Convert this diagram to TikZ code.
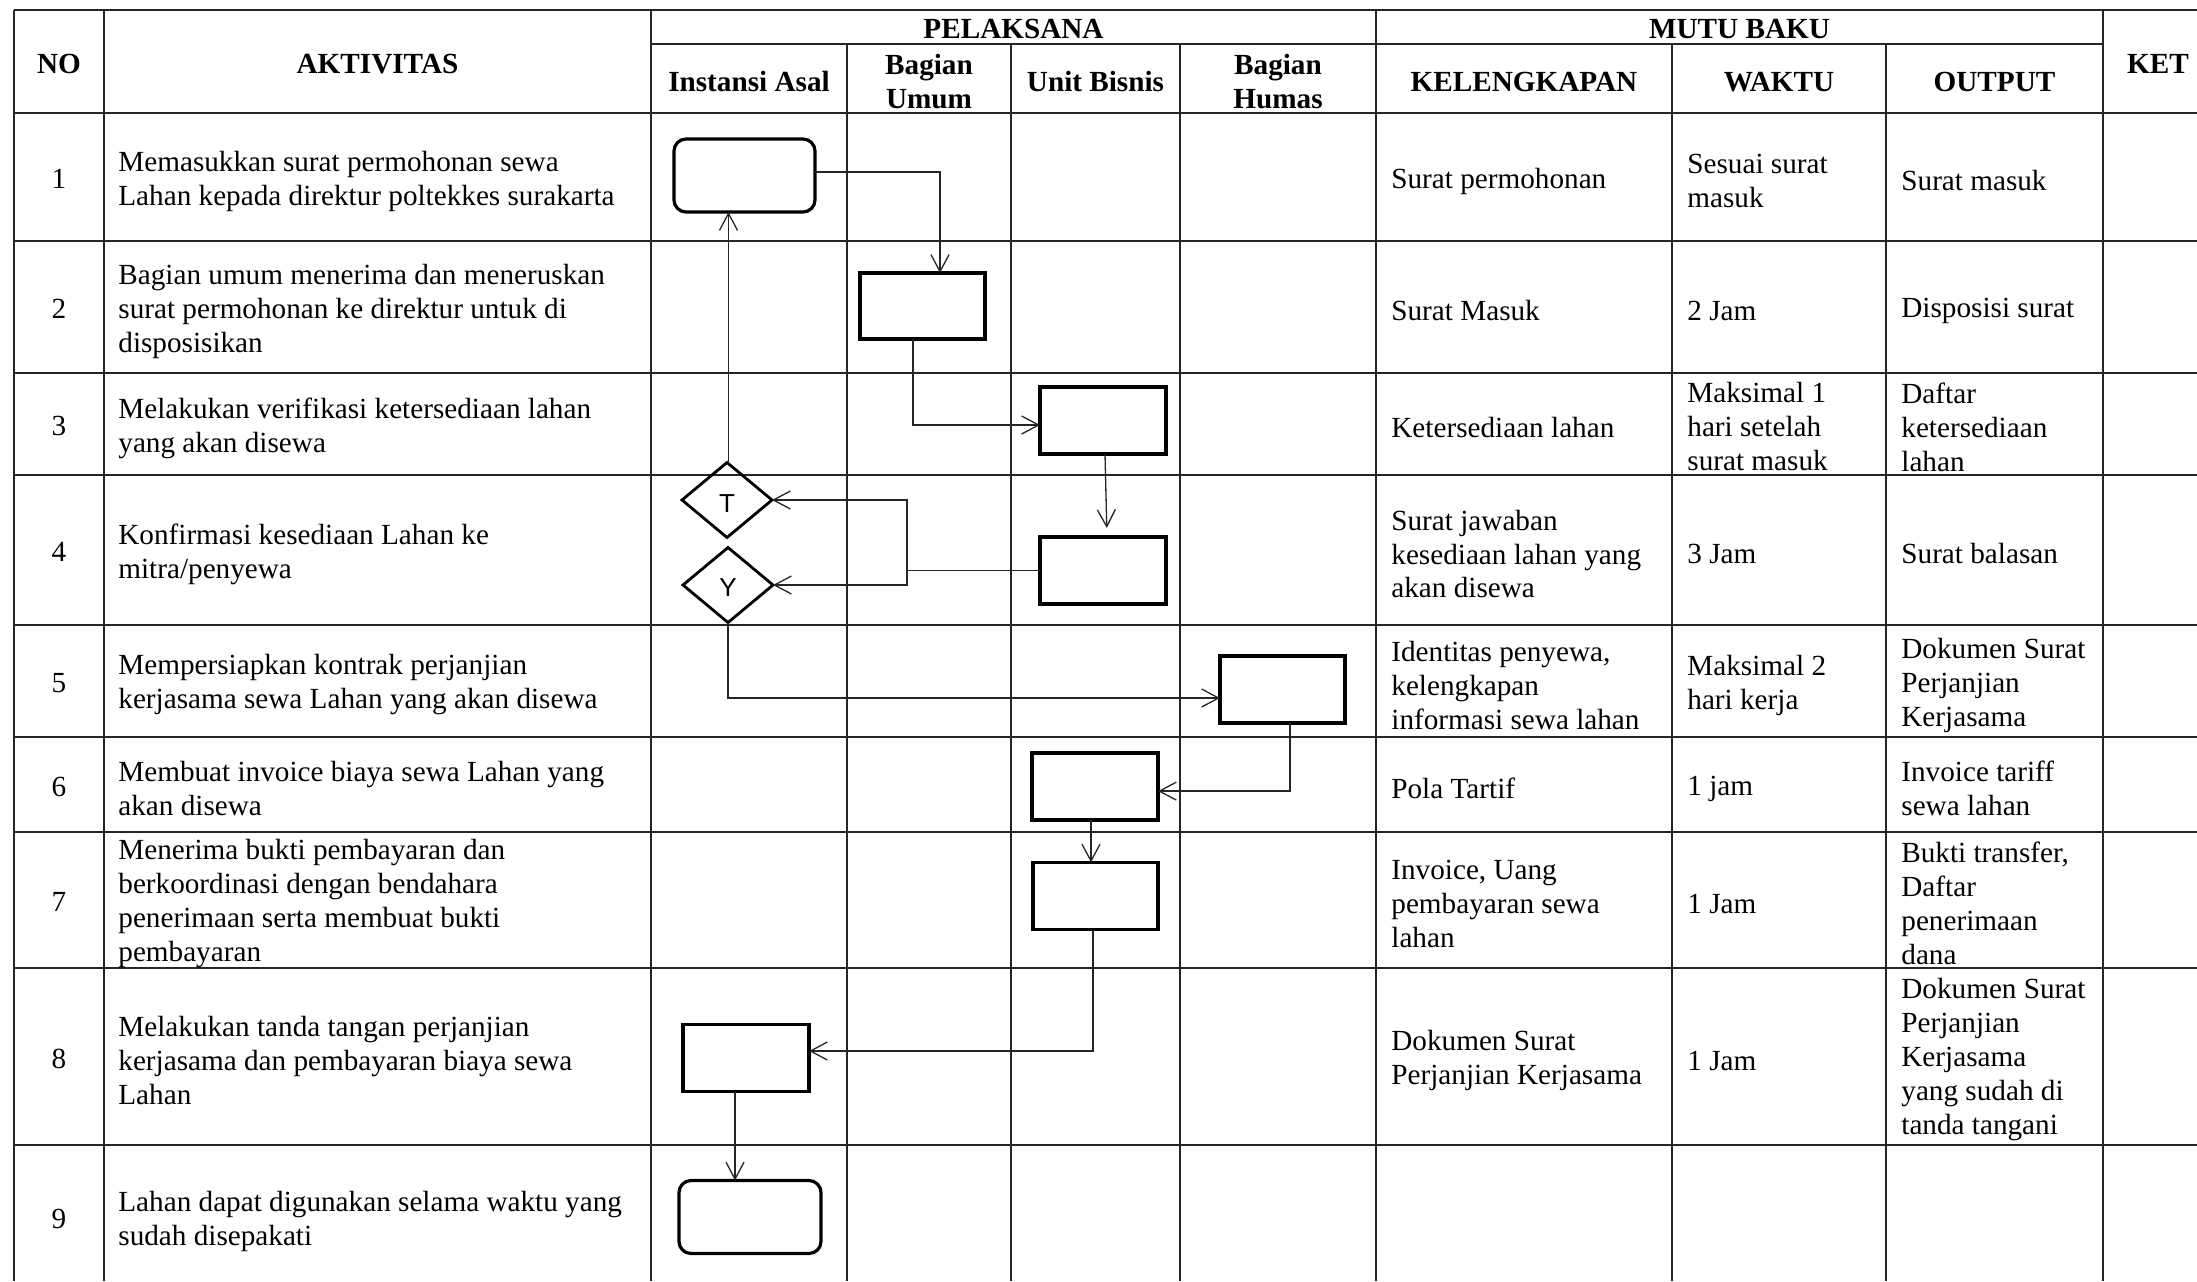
\documentclass[tikz,border=0pt]{standalone}
\usepackage{fontspec}
\setmainfont{Liberation Serif}
\newfontfamily\sansf{Liberation Sans}
\usetikzlibrary{arrows.meta,shapes.geometric,calc}
\begin{document}
\begin{tikzpicture}[x=0.5pt,y=-0.5pt,
 grid/.style={line width=0.9pt,black!85},
 proc/.style={draw,line width=1.6pt,inner sep=0,outer sep=0},
 term/.style={proc,rounded corners=6pt},
 dec/.style={draw,diamond,line width=1.4pt,inner sep=0,outer sep=0,minimum width=45pt,minimum height=37.5pt,font=\sansf\fontsize{13pt}{15pt}\selectfont},
 conn/.style={line width=0.65pt,black!85,-{Straight Barb[length=8.5pt,width=9pt,line width=0.65pt]}},
 plain/.style={line width=0.65pt,black!85},
 txt/.style={anchor=west,align=left,inner sep=0,yshift=-2pt,font=\fontsize{14.6pt}{17pt}\selectfont},
 ctr/.style={align=center,inner sep=0,yshift=-1pt,font=\fontsize{14.6pt}{17pt}\selectfont},
 hd/.style={align=center,inner sep=0,yshift=-1pt,font=\bfseries\fontsize{14.6pt}{17pt}\selectfont}
]
\useasboundingbox (0,0) rectangle (2197,1281);
% grid
\foreach \y in {10,113,241,373,475,625,737,832,968,1145}
  \draw[grid] (14,\y) -- (2197,\y);
\draw[grid] (651,44) -- (2103,44);
\foreach \x in {14,104,651,1376,2103}
  \draw[grid] (\x,10) -- (\x,1281);
\foreach \x in {847,1011,1180,1672,1886}
  \draw[grid] (\x,44) -- (\x,1281);
% header
\node[hd] (hno) at (59,62) {NO};
\node[hd] (hak) at (377.5,62) {AKTIVITAS};
\node[hd] (hpl) at (1013.5,27) {PELAKSANA};
\node[hd] (hmb) at (1739.5,27) {MUTU BAKU};
\node[hd] (hket) at (2158,62) {KET};
\node[hd] (hia) at (749,80) {Instansi Asal};
\node[hd] (hbu) at (929,80) {Bagian\\Umum};
\node[hd] (hub) at (1095.5,80) {Unit Bisnis};
\node[hd] (hbh) at (1278,80) {Bagian\\Humas};
\node[hd] (hkl) at (1524,80) {KELENGKAPAN};
\node[hd] (hwk) at (1779,80) {WAKTU};
\node[hd] (hou) at (1994.5,80) {OUTPUT};
% numbers
\foreach \n/\y in {1/177,2/307,3/424,4/550,5/681,6/784.5,7/900,8/1056.5,9/1217}
  \node[ctr] (no\n) at (59,\y) {\n};
% aktivitas
\node[txt] (a1) at (118,177) {Memasukkan surat permohonan sewa\\Lahan kepada direktur poltekkes surakarta};
\node[txt] (a2) at (118,307) {Bagian umum menerima dan meneruskan\\surat permohonan ke direktur untuk di\\disposisikan};
\node[txt] (a3) at (118,424) {Melakukan verifikasi ketersediaan lahan\\yang akan disewa};
\node[txt] (a4) at (118,550) {Konfirmasi kesediaan Lahan ke\\mitra/penyewa};
\node[txt] (a5) at (118,681) {Mempersiapkan kontrak perjanjian\\kerjasama sewa Lahan yang akan disewa};
\node[txt] (a6) at (118,784.5) {Membuat invoice biaya sewa Lahan yang\\akan disewa};
\node[txt] (a7) at (118,900) {Menerima bukti pembayaran dan\\berkoordinasi dengan bendahara\\penerimaan serta membuat bukti\\pembayaran};
\node[txt] (a8) at (118,1056.5) {Melakukan tanda tangan perjanjian\\kerjasama dan pembayaran biaya sewa\\Lahan};
\node[txt] (a9) at (118,1217) {Lahan dapat digunakan selama waktu yang\\sudah disepakati};
% kelengkapan
\node[txt] (k1) at (1391,177) {Surat permohonan};
\node[txt] (k2) at (1391,307) {Surat Masuk};
\node[txt] (k3) at (1391,424) {Ketersediaan lahan};
\node[txt] (k4) at (1391,550) {Surat jawaban\\kesediaan lahan yang\\akan disewa};
\node[txt] (k5) at (1391,681) {Identitas penyewa,\\kelengkapan\\informasi sewa lahan};
\node[txt] (k6) at (1391,784.5) {Pola Tartif};
\node[txt] (k7) at (1391,900) {Invoice, Uang\\pembayaran sewa\\lahan};
\node[txt] (k8) at (1391,1056.5) {Dokumen Surat\\Perjanjian Kerjasama};
% waktu
\node[txt] (w1) at (1687,177) {Sesuai surat\\masuk};
\node[txt] (w2) at (1687,307) {2 Jam};
\node[txt] (w3) at (1687,423) {Maksimal 1\\hari setelah\\surat masuk};
\node[txt] (w4) at (1687,550) {3 Jam};
\node[txt] (w5) at (1687,681) {Maksimal 2\\hari kerja};
\node[txt] (w6) at (1687,784.5) {1 jam};
\node[txt] (w7) at (1687,900) {1 Jam};
\node[txt] (w8) at (1687,1056.5) {1 Jam};
% output
\node[txt] (o1) at (1901,177) {Surat masuk};
\node[txt] (o2) at (1901,307) {Disposisi surat};
\node[txt] (o3) at (1901,423) {Daftar\\ketersediaan\\lahan};
\node[txt] (o4) at (1901,550) {Surat balasan};
\node[txt] (o5) at (1901,681) {Dokumen Surat\\Perjanjian\\Kerjasama};
\node[txt] (o6) at (1901,784.5) {Invoice tariff\\sewa lahan};
\node[txt] (o7) at (1901,899) {Bukti transfer,\\Daftar\\penerimaan\\dana};
\node[txt] (o8) at (1901,1056) {Dokumen Surat\\Perjanjian\\Kerjasama\\yang sudah di\\tanda tangani};
% flow shapes
\node[term,minimum width=70.5pt,minimum height=36.5pt] (n1) at (744.5,175.5) {};
\node[proc,minimum width=62.5pt,minimum height=33pt] (n2) at (922.5,306) {};
\node[proc,minimum width=63pt,minimum height=33.5pt] (n3) at (1103,420.5) {};
\node[proc,minimum width=63pt,minimum height=33.5pt] (n4) at (1103,570.5) {};
\node[dec] (dT) at (727,500) {\raisebox{-2pt}[\height][0pt]{T}};
\node[dec] (dY) at (728,585) {\raisebox{-1.5pt}[\height][0pt]{Y}};
\node[proc,minimum width=62.5pt,minimum height=33.5pt] (n5) at (1282.5,689.5) {};
\node[proc,minimum width=63pt,minimum height=33.5pt] (n6) at (1095,786.5) {};
\node[proc,minimum width=62.5pt,minimum height=33.5pt] (n7) at (1095.5,896) {};
\node[proc,minimum width=63pt,minimum height=33.5pt] (n8) at (746,1058) {};
\node[term,minimum width=71pt,minimum height=36.5pt] (n9) at (750,1217) {};
% connectors
\draw[conn] ([yshift=1.75pt]n1.east) -| ([xshift=8.75pt]n2.north);
\draw[conn] ([xshift=-4.75pt]n2.south) |- ([yshift=-2.25pt]n3.west);
\draw[conn,shorten >=4.5pt] ([xshift=1pt]n3.south) -- ([xshift=2pt]n4.north);
\coordinate (sp) at ($(n4.west)+(-66.5pt,0)$);
\draw[plain] (n4.west) -- (sp);
\draw[conn] (sp) |- (dT.east);
\draw[conn] (sp) |- (dY.east);
\draw[conn] ([xshift=0.75pt]dT.north) -- ([xshift=0.75pt]dT.north |- n1.south);
\draw[conn] (dY.south) |- ([yshift=-4.25pt]n5.west);
\draw[conn] ([xshift=3.75pt]n5.south) |- ([yshift=-2.3pt]n6.east);
\draw[conn] ([xshift=-2pt]n6.south) -- ([xshift=-2pt]n6.south |- n7.north);
\draw[conn] ([xshift=-1.25pt]n7.south) |- ([yshift=3.5pt]n8.east);
\draw[conn] ([xshift=-5.5pt]n8.south) -- ([xshift=-5.5pt]n8.south |- n9.north);
\end{tikzpicture}
\end{document}
